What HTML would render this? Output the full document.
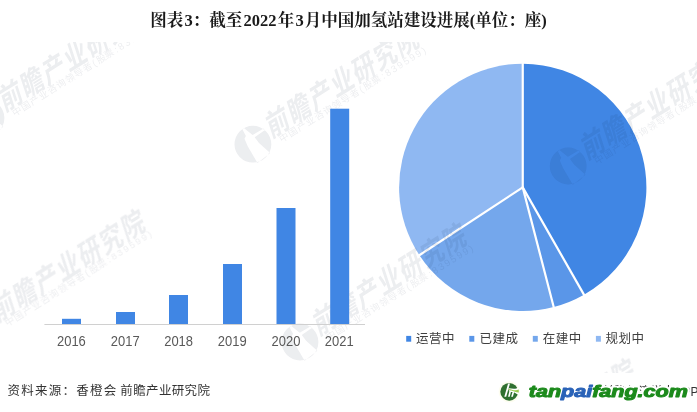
<!DOCTYPE html>
<html><head><meta charset="utf-8">
<style>
html,body{margin:0;padding:0;background:#fff;}
body{width:697px;height:412px;overflow:hidden;position:relative;font-family:"Liberation Sans","Noto Sans CJK SC",sans-serif;}
#title{position:absolute;left:150.2px;top:9.4px;font-family:"Liberation Serif","Noto Serif CJK SC",serif;font-size:16.5px;font-weight:bold;color:#1a1a1a;white-space:nowrap;line-height:24px;}
#title .d{margin:0 1.24px;}
#src{position:absolute;left:0;top:381px;font-size:12.5px;color:#333;white-space:nowrap;line-height:20px;}
#src span{position:absolute;top:0;}
.s1{left:7.6px;letter-spacing:1.25px;}
.s2{left:120.3px;letter-spacing:0.36px;}
svg{position:absolute;left:0;top:0;}
.xl{font-size:14.5px;fill:#595959;font-family:"Liberation Sans",sans-serif;}
.wm1{font-size:29px;font-weight:700;font-family:"Noto Sans CJK SC","Liberation Sans",sans-serif;}
.wm2{font-size:9.5px;font-family:"Liberation Sans","Noto Sans CJK SC",sans-serif;}
.lg{font-size:12.5px;fill:#404040;letter-spacing:0.5px;font-family:"Liberation Sans","Noto Sans CJK SC",sans-serif;}
</style></head><body>
<div id="title">图表<span style="margin-left:1.24px">3</span>：截至<span class="d">2022</span>年<span class="d">3</span>月中国加氢站建设进展(单位：座)</div>
<svg width="697" height="412" viewBox="0 0 697 412">
<clipPath id="wmclip"><rect x="0" y="42" width="697" height="330.6"/></clipPath>
<!-- pie -->
<g id="pie">
<path fill="#4086e4" d="M522.75 187.35L522.75 63.70A123.65 123.65 0 0 1 584.01 294.76Z"/>
<path fill="#5a96e8" d="M522.75 187.35L584.01 294.76A123.65 123.65 0 0 1 553.71 307.06Z"/>
<path fill="#74a7ec" d="M522.75 187.35L553.71 307.06A123.65 123.65 0 0 1 419.40 255.24Z"/>
<path fill="#8fb8f2" d="M522.75 187.35L419.40 255.24A123.65 123.65 0 0 1 522.75 63.70Z"/>
<g stroke="#fff" stroke-width="2.2" stroke-linecap="round"><line x1="522.75" y1="187.35" x2="522.75" y2="62.70"/>
<line x1="522.75" y1="187.35" x2="584.51" y2="295.62"/>
<line x1="522.75" y1="187.35" x2="553.96" y2="308.03"/>
<line x1="522.75" y1="187.35" x2="418.57" y2="255.79"/></g>
</g>
<!-- WM -->
<g id="wm" fill="#0a1a3a" opacity="0.075" clip-path="url(#wmclip)">
<g transform="translate(252.9,144.2)"><path fill-rule="evenodd" d="M-18.4 0A18.4 18.4 0 1 0 18.4 0A18.4 18.4 0 1 0 -18.4 0ZM-10.4 -14.6L-7.0 -8.2L-8.4 -5.5L-6.7 -1.5L-5.2 2.1L4.6 18.8L17.3 8.8L6.1 -1.2L1.8 -7.0L11.8 -13.9L10.7 -15.7L-0.3 -9.2L-8.7 -16.0Z"/>
<g transform="rotate(-32)"><text class="wm1" transform="translate(18.6,4.6) skewX(-14) scale(0.82,1)" x="0.00 30.98 61.95 92.93 123.90 154.88 185.85">前瞻产业研究院</text><text class="wm2" text-anchor="middle" y="14.1" x="29.84 40.24 50.64 61.04 71.44 81.84 92.24 102.64 113.04 120.74 129.14 138.44 146.64 152.54 159.74 166.84 174.04 181.24 188.34 194.64">中国产业咨询领导者(股票:839599)</text></g></g>
<g transform="translate(-14,118)"><path fill-rule="evenodd" d="M-18.4 0A18.4 18.4 0 1 0 18.4 0A18.4 18.4 0 1 0 -18.4 0ZM-10.4 -14.6L-7.0 -8.2L-8.4 -5.5L-6.7 -1.5L-5.2 2.1L4.6 18.8L17.3 8.8L6.1 -1.2L1.8 -7.0L11.8 -13.9L10.7 -15.7L-0.3 -9.2L-8.7 -16.0Z"/>
<g transform="rotate(-32)"><text class="wm1" transform="translate(18.6,4.6) skewX(-14) scale(0.82,1)" x="0.00 30.98 61.95 92.93 123.90 154.88 185.85">前瞻产业研究院</text><text class="wm2" text-anchor="middle" y="14.1" x="29.84 40.24 50.64 61.04 71.44 81.84 92.24 102.64 113.04 120.74 129.14 138.44 146.64 152.54 159.74 166.84 174.04 181.24 188.34 194.64">中国产业咨询领导者(股票:839599)</text></g></g>
<g transform="translate(-21.35,328.05)"><path fill-rule="evenodd" d="M-18.4 0A18.4 18.4 0 1 0 18.4 0A18.4 18.4 0 1 0 -18.4 0ZM-10.4 -14.6L-7.0 -8.2L-8.4 -5.5L-6.7 -1.5L-5.2 2.1L4.6 18.8L17.3 8.8L6.1 -1.2L1.8 -7.0L11.8 -13.9L10.7 -15.7L-0.3 -9.2L-8.7 -16.0Z"/>
<g transform="rotate(-32)"><text class="wm1" transform="translate(18.6,4.6) skewX(-14) scale(0.82,1)" x="0.00 30.98 61.95 92.93 123.90 154.88 185.85">前瞻产业研究院</text><text class="wm2" text-anchor="middle" y="14.1" x="29.84 40.24 50.64 61.04 71.44 81.84 92.24 102.64 113.04 120.74 129.14 138.44 146.64 152.54 159.74 166.84 174.04 181.24 188.34 194.64">中国产业咨询领导者(股票:839599)</text></g></g>
<g transform="translate(300,342)"><path fill-rule="evenodd" d="M-18.4 0A18.4 18.4 0 1 0 18.4 0A18.4 18.4 0 1 0 -18.4 0ZM-10.4 -14.6L-7.0 -8.2L-8.4 -5.5L-6.7 -1.5L-5.2 2.1L4.6 18.8L17.3 8.8L6.1 -1.2L1.8 -7.0L11.8 -13.9L10.7 -15.7L-0.3 -9.2L-8.7 -16.0Z"/>
<g transform="rotate(-32)"><text class="wm1" transform="translate(18.6,4.6) skewX(-14) scale(0.82,1)" x="0.00 30.98 61.95 92.93 123.90 154.88 185.85">前瞻产业研究院</text><text class="wm2" text-anchor="middle" y="14.1" x="29.84 40.24 50.64 61.04 71.44 81.84 92.24 102.64 113.04 120.74 129.14 138.44 146.64 152.54 159.74 166.84 174.04 181.24 188.34 194.64">中国产业咨询领导者(股票:839599)</text></g></g>
<g transform="translate(568.2,166)"><path fill-rule="evenodd" d="M-18.4 0A18.4 18.4 0 1 0 18.4 0A18.4 18.4 0 1 0 -18.4 0ZM-10.4 -14.6L-7.0 -8.2L-8.4 -5.5L-6.7 -1.5L-5.2 2.1L4.6 18.8L17.3 8.8L6.1 -1.2L1.8 -7.0L11.8 -13.9L10.7 -15.7L-0.3 -9.2L-8.7 -16.0Z"/>
<g transform="rotate(-32)"><text class="wm1" transform="translate(18.6,4.6) skewX(-14) scale(0.82,1)" x="0.00 30.98 61.95 92.93 123.90 154.88 185.85">前瞻产业研究院</text><text class="wm2" text-anchor="middle" y="14.1" x="29.84 40.24 50.64 61.04 71.44 81.84 92.24 102.64 113.04 120.74 129.14 138.44 146.64 152.54 159.74 166.84 174.04 181.24 188.34 194.64">中国产业咨询领导者(股票:839599)</text></g></g>
<g transform="translate(469.05,477.25)"><path fill-rule="evenodd" d="M-18.4 0A18.4 18.4 0 1 0 18.4 0A18.4 18.4 0 1 0 -18.4 0ZM-10.4 -14.6L-7.0 -8.2L-8.4 -5.5L-6.7 -1.5L-5.2 2.1L4.6 18.8L17.3 8.8L6.1 -1.2L1.8 -7.0L11.8 -13.9L10.7 -15.7L-0.3 -9.2L-8.7 -16.0Z"/>
<g transform="rotate(-32)"><text class="wm1" transform="translate(18.6,4.6) skewX(-14) scale(0.82,1)" x="0.00 30.98 61.95 92.93 123.90 154.88 185.85">前瞻产业研究院</text><text class="wm2" text-anchor="middle" y="14.1" x="29.84 40.24 50.64 61.04 71.44 81.84 92.24 102.64 113.04 120.74 129.14 138.44 146.64 152.54 159.74 166.84 174.04 181.24 188.34 194.64">中国产业咨询领导者(股票:839599)</text></g></g>
</g>
<!-- /WM -->
<!-- bars -->
<g fill="#4086e4">
<rect x="62" y="318.8" width="19" height="5.2"/>
<rect x="116" y="312" width="19" height="12"/>
<rect x="169" y="295" width="19" height="29"/>
<rect x="223" y="264" width="19" height="60"/>
<rect x="276.5" y="208" width="19" height="116"/>
<rect x="330.2" y="108.7" width="19" height="215.3"/>
</g>
<rect x="44.4" y="324" width="320.6" height="1" fill="#d0d0d0"/>
<g class="xl" text-anchor="middle">
<text transform="translate(71.4,345.9) scale(0.895,1)">2016</text>
<text transform="translate(125.2,345.9) scale(0.895,1)">2017</text>
<text transform="translate(178.6,345.9) scale(0.895,1)">2018</text>
<text transform="translate(232.2,345.9) scale(0.895,1)">2019</text>
<text transform="translate(286,345.9) scale(0.895,1)">2020</text>
<text transform="translate(339.2,345.9) scale(0.895,1)">2021</text>
</g>
<!-- legend -->
<rect x="406.2" y="335.9" width="5" height="5.8" fill="#4086e4"/>
<rect x="469.3" y="335.9" width="5" height="5.8" fill="#5a96e8"/>
<rect x="532.8" y="335.9" width="5" height="5.8" fill="#74a7ec"/>
<rect x="595.9" y="335.9" width="5" height="5.8" fill="#8fb8f2"/>
<g class="lg">
<text x="415.9" y="343.3">运营中</text>
<text x="479.6" y="343.3">已建成</text>
<text x="542.8" y="343.3">在建中</text>
<text x="605.6" y="343.3">规划中</text>
</g>
<!-- LOGO -->
<g id="logo">
<text x="698.5" y="396.2" text-anchor="end" style="font-size:12px;fill:#333;font-family:'Liberation Sans','Noto Sans CJK SC',sans-serif">@前瞻经济学人APP</text>
<circle cx="509.25" cy="391.8" r="10.6" fill="#fdfdf0"/>
<circle cx="509.25" cy="391.8" r="8.9" fill="#2f7030"/>
<path d="M508.10 383.44L510.00 383.44L506.20 396.69L504.29 396.69ZM509.39 391.26L511.09 391.26L509.73 396.69L508.03 396.69ZM512.52 391.94L514.22 391.94L512.86 396.69L511.16 396.69ZM509.05 390.37L513.68 390.64L514.49 392.28L508.92 391.60Z" fill="#fff"/>
<path d="M508.58 388.33C511.64 388.20 514.35 389.90 518.77 387.52L518.77 395.00C515.71 393.77 512.32 390.92 508.58 390.37Z" fill="#fff"/>
<path d="M508.58 388.88C511.98 389.08 514.35 391.26 518.77 389.56L518.77 392.41C515.03 392.62 512.32 390.58 508.58 390.10Z" fill="#9ccc50"/>
<g transform="translate(528.8,396.6) scale(1.345,1)" style="font-family:'Liberation Sans',sans-serif;font-size:16px;font-weight:bold;font-style:italic" stroke-linejoin="round">
<text x="0" y="0" fill="#fff" stroke="#fff" stroke-width="4.4">tanpaifang.com</text>
<text x="0" y="0" stroke-width="1.0"><tspan fill="#1c8a1c" stroke="#1c8a1c">tan</tspan><tspan fill="#2a63b8" stroke="#2a63b8">pai</tspan><tspan fill="#1c8a1c" stroke="#1c8a1c">fang.com</tspan></text>
</g>
</g>
<!-- /LOGO -->
</svg>
<div id="src"><span class="s1">资料来源：香橙会</span><span class="s2">前瞻产业研究院</span></div>
</body></html>
